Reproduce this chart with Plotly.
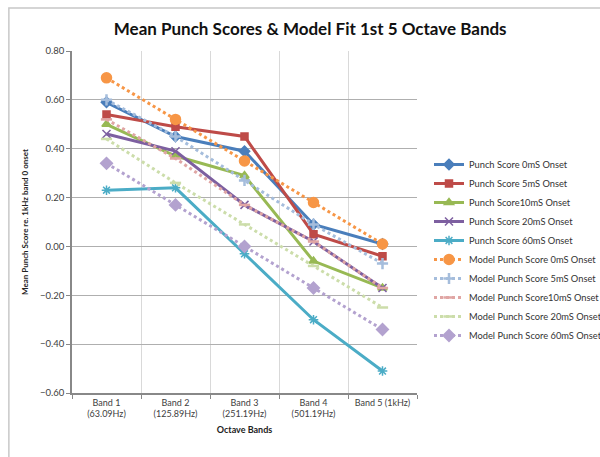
import plotly.graph_objects as go

bands = ["Band 1<br>(63.09Hz)", "Band 2<br>(125.89Hz)", "Band 3<br>(251.19Hz)",
         "Band 4<br>(501.19Hz)", "Band 5 (1kHz)"]

punch_0 = [0.59, 0.45, 0.39, 0.09, 0.01]
punch_5 = [0.54, 0.49, 0.45, 0.05, -0.04]
punch_10 = [0.50, 0.37, 0.29, -0.06, -0.17]
punch_20 = [0.46, 0.39, 0.17, 0.02, -0.17]
punch_60 = [0.23, 0.24, -0.03, -0.30, -0.51]

model_0 = [0.69, 0.52, 0.35, 0.18, 0.01]
model_5 = [0.60, 0.45, 0.27, 0.09, -0.07]
model_10 = [0.52, 0.36, 0.17, 0.02, -0.17]
model_20 = [0.44, 0.26, 0.09, -0.08, -0.25]
model_60 = [0.34, 0.17, 0.00, -0.17, -0.34]

fig = go.Figure()

# measured scores: solid lines
solid = [
    ("Punch Score 0mS Onset", punch_0, "#4A7EBB", "diamond", 8),
    ("Punch Score 5mS Onset", punch_5, "#BE4B48", "square", 7),
    ("Punch Score10mS Onset", punch_10, "#98B954", "triangle-up", 8),
    ("Punch Score 20mS Onset", punch_20, "#7D5FA0", "x-thin-open", 8),
    ("Punch Score 60mS Onset", punch_60, "#4BACC6", "asterisk-open", 8),
]
for name, vals, col, sym, sz in solid:
    fig.add_trace(go.Scatter(
        x=bands, y=vals, name=name, mode="lines+markers",
        line=dict(color=col, width=3),
        marker=dict(symbol=sym, size=sz, color=col, line=dict(color=col, width=1.5)),
    ))

# model fits: dotted lines
dotted = [
    ("Model Punch Score 0mS Onset", model_0, "#F79646", "circle", 9),
    ("Model Punch Score 5mS Onset", model_5, "#A5BDDC", "cross-thin-open", 8),
    ("Model Punch Score10mS Onset", model_10, "#E0A6A4", "line-ew-open", 8),
    ("Model Punch Score 20mS Onset", model_20, "#CCDDAA", "line-ew-open", 8),
    ("Model Punch Score 60mS Onset", model_60, "#B3A2CF", "diamond", 8),
]
for name, vals, col, sym, sz in dotted:
    fig.add_trace(go.Scatter(
        x=bands, y=vals, name=name, mode="lines+markers",
        line=dict(color=col, width=3, dash="dot"),
        marker=dict(symbol=sym, size=sz, color=col, line=dict(color=col, width=2.5)),
    ))

# chart frame (left/top edges visible, rest runs off the page)
fig.add_shape(type="rect", xref="paper", yref="paper",
              x0=-0.183, x1=2.0, y0=-0.4, y1=1.126,
              line=dict(color="#C8C8C8", width=1.5), fillcolor="rgba(0,0,0,0)", layer="below")

fig.update_layout(
    width=600, height=457,
    margin=dict(l=72, r=178, t=51, b=64),
    paper_bgcolor="white", plot_bgcolor="white",
    font=dict(family="Lato, Open Sans, sans-serif", color="#404040", size=9),
    title=dict(text="<b>Mean Punch Scores & Model Fit 1st 5 Octave Bands</b>",
               x=0.517, xanchor="center", y=0.937, yanchor="middle",
               font=dict(size=17, color="#111111")),
    showlegend=True,
    # container refs so the legend doesn't push the right margin
    legend=dict(xref="container", yref="container", x=0.715, xanchor="left",
                y=0.453, yanchor="middle",
                font=dict(size=9.3, color="#333333"), tracegroupgap=0,
                bgcolor="rgba(0,0,0,0)"),
    xaxis=dict(
        type="category", range=[-0.5, 4.5], tickson="boundaries",
        showgrid=True, gridcolor="#D9D9D9",
        showline=True, linecolor="#888888", linewidth=1.5, ticks="outside",
        ticklen=4, tickcolor="#888888",
        title=dict(text="<b>Octave Bands</b>", font=dict(size=9, color="#222222"), standoff=8),
        tickfont=dict(size=9, color="#404040"),
    ),
    yaxis=dict(
        range=[-0.6, 0.8], dtick=0.2, tickformat=".2f", showgrid=True,
        gridcolor="#AFAFAF", gridwidth=1, zeroline=False,
        showline=True, linecolor="#888888", linewidth=1.5, ticks="outside",
        ticklen=4, tickcolor="#888888",
        title=dict(text="<b>Mean Punch Score re. 1kHz band 0 onset</b>",
                   font=dict(size=8, color="#222222"), standoff=10),
        tickfont=dict(size=9.5, color="#404040"),
    ),
)

# drop the default 8px page margin so the figure sits at the window origin
fig.write_html("out.html", config={"displayModeBar": False},
               post_script="document.body.style.margin='0';document.body.style.overflow='hidden';")
